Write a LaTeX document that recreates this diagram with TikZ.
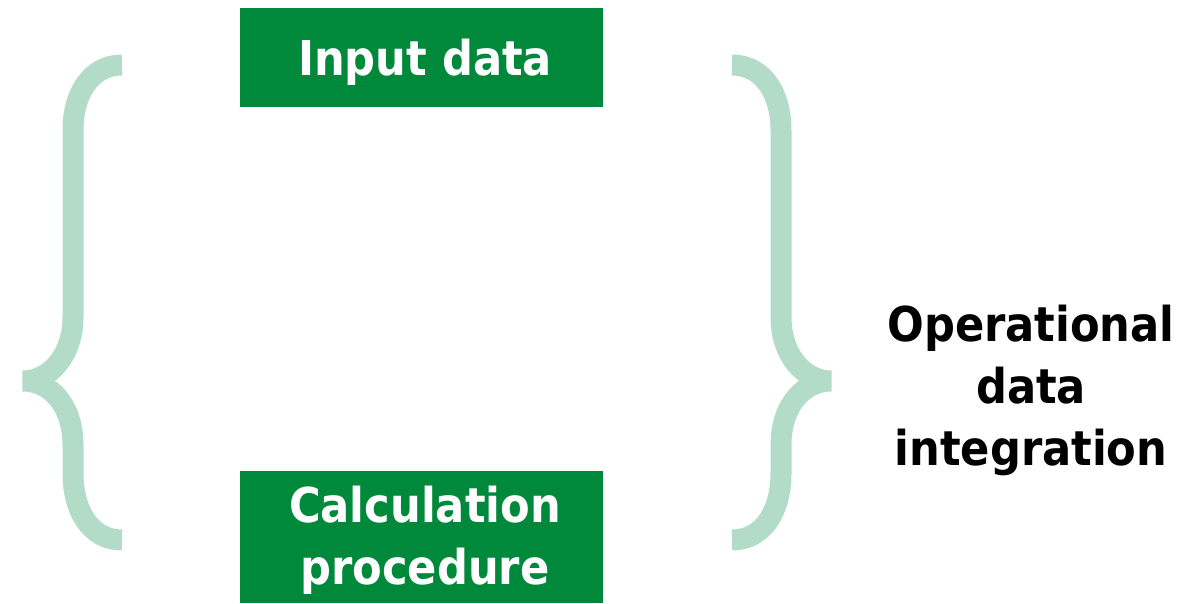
\documentclass[tikz,border=0pt]{standalone}
\usepackage{fontspec}
\setmainfont{DejaVu Sans Condensed}
\definecolor{BoxClr}{RGB}{0,137,59}
\definecolor{BraceClr}{RGB}{178,220,199}

\tikzset{
  greenbox/.style={fill=BoxClr,text=white,font=\bfseries\fontsize{36}{46.5}\selectfont,
    align=center,inner sep=0pt,minimum width=272.25pt},
  bracepath/.style={draw=BraceClr,line width=15.75pt,line cap=butt},
  sidetext/.style={text=black,font=\bfseries\fontsize{36}{46.5}\selectfont,align=center}
}

\begin{document}
\begin{tikzpicture}[x=0.75pt,y=-0.75pt]
\useasboundingbox (0,0) rectangle (1202,603);

\fill[BoxClr] (240,8) rectangle (603,107);
\fill[BoxClr] (240,471) rectangle (603,603);
\node[greenbox,fill=none] (input) at (425,62) {Input data};
\node[greenbox,fill=none] (calc) at (425,540) {Calculation\\procedure};

% left brace
\draw[bracepath] (122,65) .. controls (90,65) and (73,95) .. (73,130) -- (73,317)
  .. controls (73,355) and (50,381) .. (23,381)
  .. controls (50,381) and (73,405) .. (73,445) -- (73,473)
  .. controls (73,510) and (90,540) .. (122,540);

% right brace
\draw[bracepath] (732,65) .. controls (764,65) and (781,95) .. (781,130) -- (781,317)
  .. controls (781,355) and (804,381) .. (831,381)
  .. controls (804,381) and (781,405) .. (781,445) -- (781,473)
  .. controls (781,510) and (764,540) .. (732,540);

\node[sidetext] (ops) at (1031,390) {Operational\\data\\integration};

\end{tikzpicture}
\end{document}
